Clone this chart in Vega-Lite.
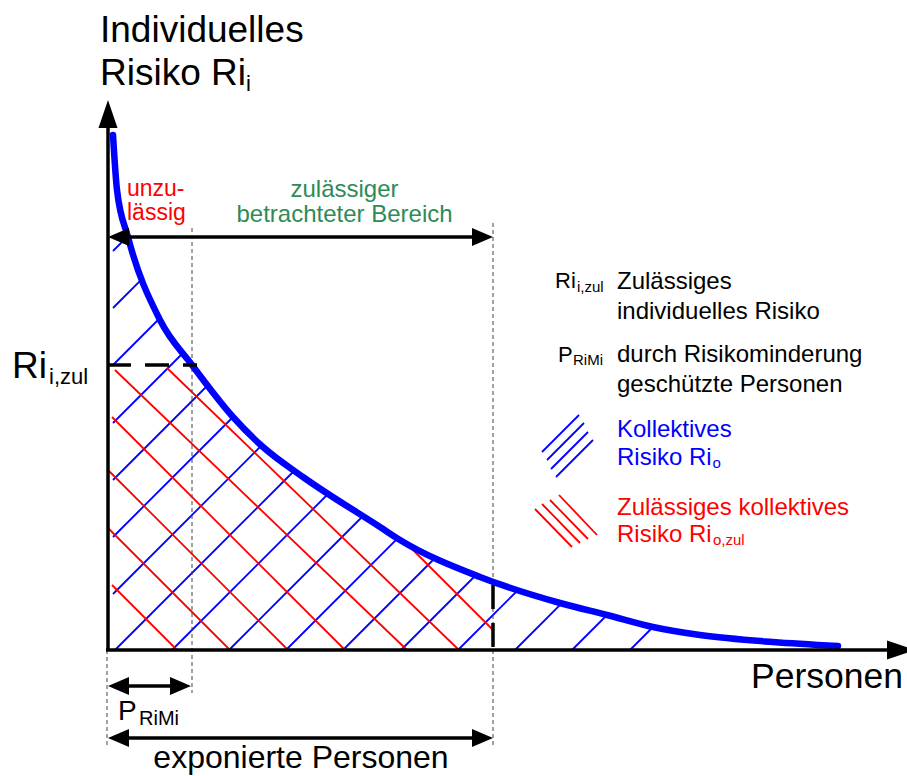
{
  "$schema": "https://vega.github.io/schema/vega-lite/v6.json",
  "width": 907,
  "height": 776,
  "padding": 0,
  "autosize": {"type": "none"},
  "background": "white",
  "config": {"view": {"stroke": null}, "text": {"font": "Liberation Sans"}},
  "datasets": {
    "curve": [
      {"x": 6, "y": 515}, {"x": 10, "y": 460}, {"x": 21, "y": 413}, {"x": 53, "y": 330},
      {"x": 85, "y": 285}, {"x": 126, "y": 233}, {"x": 156, "y": 203}, {"x": 196, "y": 173},
      {"x": 273, "y": 123}, {"x": 293, "y": 110}, {"x": 373, "y": 73}, {"x": 453, "y": 47},
      {"x": 500, "y": 35}, {"x": 546, "y": 23}, {"x": 593, "y": 15}, {"x": 666, "y": 8},
      {"x": 731, "y": 4}
    ],
    "segs": [
      {"g": "blue", "x": 6, "y": 399, "x2": 18, "y2": 411},
      {"g": "blue", "x": 6, "y": 342, "x2": 36.6, "y2": 372.6},
      {"g": "blue", "x": 6, "y": 285, "x2": 52, "y2": 331},
      {"g": "blue", "x": 6, "y": 227, "x2": 76, "y2": 297},
      {"g": "blue", "x": 6, "y": 170, "x2": 101, "y2": 265},
      {"g": "blue", "x": 6, "y": 113, "x2": 126, "y2": 233},
      {"g": "blue", "x": 6, "y": 56, "x2": 154.5, "y2": 204.5},
      {"g": "blue", "x": 8, "y": 0, "x2": 187, "y2": 179},
      {"g": "blue", "x": 65, "y": 0, "x2": 221.5, "y2": 156.5},
      {"g": "blue", "x": 122, "y": 0, "x2": 256, "y2": 134},
      {"g": "blue", "x": 179, "y": 0, "x2": 290.6, "y2": 111.6},
      {"g": "blue", "x": 236, "y": 0, "x2": 329, "y2": 93},
      {"g": "blue", "x": 294, "y": 0, "x2": 369, "y2": 75},
      {"g": "blue", "x": 351, "y": 0, "x2": 411.5, "y2": 60.5},
      {"g": "blue", "x": 408, "y": 0, "x2": 454.6, "y2": 46.6},
      {"g": "blue", "x": 465, "y": 0, "x2": 500, "y2": 35},
      {"g": "blue", "x": 523, "y": 0, "x2": 546, "y2": 23},
      {"g": "blue", "x": 435, "y": 198, "x2": 472, "y2": 235},
      {"g": "blue", "x": 440, "y": 190, "x2": 477, "y2": 227},
      {"g": "blue", "x": 444, "y": 181, "x2": 481, "y2": 218},
      {"g": "blue", "x": 449, "y": 173, "x2": 486, "y2": 210},
      {"g": "red", "x": 298, "y": 108, "x2": 386, "y2": 20},
      {"g": "red", "x": 60, "y": 282, "x2": 352, "y2": 0},
      {"g": "red", "x": 8, "y": 280, "x2": 300, "y2": 0},
      {"g": "red", "x": 5, "y": 233, "x2": 238, "y2": 0},
      {"g": "red", "x": 1, "y": 180, "x2": 181, "y2": 0},
      {"g": "red", "x": 0, "y": 123, "x2": 123, "y2": 0},
      {"g": "red", "x": 5, "y": 65, "x2": 70, "y2": 0},
      {"g": "red", "x": 428, "y": 141, "x2": 465, "y2": 103},
      {"g": "red", "x": 435, "y": 146, "x2": 473, "y2": 107},
      {"g": "red", "x": 443, "y": 150, "x2": 481, "y2": 111},
      {"g": "red", "x": 452, "y": 155, "x2": 490, "y2": 115},
      {"g": "thin", "x": 85, "y": 422, "x2": 85, "y2": -43},
      {"g": "thin", "x": 386, "y": 427, "x2": 386, "y2": -97},
      {"g": "thin", "x": 0, "y": 0, "x2": 0, "y2": -98},
      {"g": "dash", "x": 0, "y": 285, "x2": 90, "y2": 285},
      {"g": "dash", "x": 386, "y": 65, "x2": 386, "y2": 0},
      {"g": "solid", "x": 1, "y": 0, "x2": 1, "y2": 530},
      {"g": "solid", "x": -1, "y": 0, "x2": 790, "y2": 0},
      {"g": "solid", "x": 11, "y": 413, "x2": 375, "y2": 413},
      {"g": "solid", "x": 11, "y": -36, "x2": 74, "y2": -36},
      {"g": "solid", "x": 11, "y": -88, "x2": 376, "y2": -88}
    ],
    "heads": [
      {"g": "upbig", "x": 1, "y": 536},
      {"g": "rightbig", "x": 794, "y": 0},
      {"g": "left", "x": 11.5, "y": 413},
      {"g": "left", "x": 11.5, "y": -36},
      {"g": "left", "x": 11.5, "y": -88},
      {"g": "right", "x": 375.5, "y": 413},
      {"g": "right", "x": 73.5, "y": -36},
      {"g": "right", "x": 375.5, "y": -88}
    ],
    "texts": [
      {"g": "big", "t": "Individuelles", "x": -7, "y": 608},
      {"g": "big", "t": "Risiko Ri", "x": -7, "y": 565},
      {"g": "bigsub", "t": "i", "x": 139, "y": 559},
      {"g": "big", "t": "Ri", "x": -95, "y": 272},
      {"g": "bigsub", "t": "i,zul", "x": -58, "y": 266},
      {"g": "axt", "t": "Personen", "x": 644, "y": -38},
      {"g": "mid", "t": "exponierte Personen", "x": 194, "y": -118},
      {"g": "p", "t": "P", "x": 11, "y": -70},
      {"g": "psub", "t": "RiMi", "x": 32, "y": -75},
      {"g": "red23", "t": "unzu-", "x": 20, "y": 454},
      {"g": "red23", "t": "lässig", "x": 20, "y": 430},
      {"g": "green", "t": "zulässiger", "x": 237.5, "y": 453},
      {"g": "green", "t": "betrachteter Bereich", "x": 237.5, "y": 428},
      {"g": "leg", "t": "Zulässiges", "x": 510, "y": 361},
      {"g": "leg", "t": "individuelles Risiko", "x": 510, "y": 331},
      {"g": "leg", "t": "durch Risikominderung", "x": 510, "y": 288},
      {"g": "leg", "t": "geschützte Personen", "x": 510, "y": 258},
      {"g": "legblue", "t": "Kollektives", "x": 510, "y": 213},
      {"g": "legblue", "t": "Risiko Ri", "x": 510, "y": 185},
      {"g": "legred", "t": "Zulässiges kollektives", "x": 510, "y": 135},
      {"g": "legred", "t": "Risiko Ri", "x": 510, "y": 108},
      {"g": "legsym", "t": "Ri", "x": 448, "y": 362},
      {"g": "legsym", "t": "P", "x": 451, "y": 288},
      {"g": "legsub", "t": "i,zul", "x": 470, "y": 358},
      {"g": "legsub", "t": "RiMi", "x": 466, "y": 285},
      {"g": "legsubblue", "t": "o", "x": 605.5, "y": 182},
      {"g": "legsubred", "t": "o,zul", "x": 606, "y": 105}
    ]
  },
  "encoding": {
    "x": {"field": "x", "type": "quantitative", "scale": {"domain": [-107, 800], "nice": false, "zero": false}, "axis": null},
    "y": {"field": "y", "type": "quantitative", "scale": {"domain": [-126, 650], "nice": false, "zero": false}, "axis": null}
  },
  "layer": [
    {"data": {"name": "segs"}, "transform": [{"filter": "datum.g == 'blue'"}],
     "mark": {"type": "rule", "color": "#0000ff", "strokeWidth": 1.8},
     "encoding": {"x2": {"field": "x2"}, "y2": {"field": "y2"}}},
    {"data": {"name": "segs"}, "transform": [{"filter": "datum.g == 'red'"}],
     "mark": {"type": "rule", "color": "#ff0000", "strokeWidth": 1.8},
     "encoding": {"x2": {"field": "x2"}, "y2": {"field": "y2"}}},
    {"data": {"name": "segs"}, "transform": [{"filter": "datum.g == 'thin'"}],
     "mark": {"type": "rule", "color": "#444444", "strokeWidth": 1, "strokeDash": [4, 3]},
     "encoding": {"x2": {"field": "x2"}, "y2": {"field": "y2"}}},
    {"data": {"name": "curve"},
     "mark": {"type": "line", "color": "#0000ff", "strokeWidth": 6.5, "strokeCap": "round", "interpolate": "monotone"},
     "encoding": {}},
    {"data": {"name": "segs"}, "transform": [{"filter": "datum.g == 'dash'"}],
     "mark": {"type": "rule", "color": "#000000", "strokeWidth": 3.5, "strokeDash": [24, 14]},
     "encoding": {"x2": {"field": "x2"}, "y2": {"field": "y2"}}},
    {"data": {"name": "segs"}, "transform": [{"filter": "datum.g == 'solid'"}],
     "mark": {"type": "rule", "color": "#000000", "strokeWidth": 3.5},
     "encoding": {"x2": {"field": "x2"}, "y2": {"field": "y2"}}},
    {"data": {"name": "heads"}, "transform": [{"filter": "datum.g == 'upbig'"}],
     "mark": {"type": "point", "filled": true, "color": "#000000", "opacity": 1, "size": 784, "shape": "M0,-1L0.68,1L-0.68,1Z"}},
    {"data": {"name": "heads"}, "transform": [{"filter": "datum.g == 'rightbig'"}],
     "mark": {"type": "point", "filled": true, "color": "#000000", "opacity": 1, "size": 784, "shape": "M1,0L-1,-0.68L-1,0.68Z"}},
    {"data": {"name": "heads"}, "transform": [{"filter": "datum.g == 'left'"}],
     "mark": {"type": "point", "filled": true, "color": "#000000", "opacity": 1, "size": 441, "shape": "M-1,0L1,-0.86L1,0.86Z"}},
    {"data": {"name": "heads"}, "transform": [{"filter": "datum.g == 'right'"}],
     "mark": {"type": "point", "filled": true, "color": "#000000", "opacity": 1, "size": 441, "shape": "M1,0L-1,-0.86L-1,0.86Z"}},
    {"data": {"name": "texts"}, "transform": [{"filter": "datum.g == 'big'"}],
     "mark": {"type": "text", "align": "left", "baseline": "alphabetic", "fontSize": 37, "color": "#000000"},
     "encoding": {"text": {"field": "t"}}},
    {"data": {"name": "texts"}, "transform": [{"filter": "datum.g == 'axt'"}],
     "mark": {"type": "text", "align": "left", "baseline": "alphabetic", "fontSize": 35.5, "color": "#000000"},
     "encoding": {"text": {"field": "t"}}},
    {"data": {"name": "texts"}, "transform": [{"filter": "datum.g == 'bigsub'"}],
     "mark": {"type": "text", "align": "left", "baseline": "alphabetic", "fontSize": 22, "color": "#000000"},
     "encoding": {"text": {"field": "t"}}},
    {"data": {"name": "texts"}, "transform": [{"filter": "datum.g == 'mid'"}],
     "mark": {"type": "text", "align": "center", "baseline": "alphabetic", "fontSize": 32, "color": "#000000"},
     "encoding": {"text": {"field": "t"}}},
    {"data": {"name": "texts"}, "transform": [{"filter": "datum.g == 'p'"}],
     "mark": {"type": "text", "align": "left", "baseline": "alphabetic", "fontSize": 28, "color": "#000000"},
     "encoding": {"text": {"field": "t"}}},
    {"data": {"name": "texts"}, "transform": [{"filter": "datum.g == 'psub'"}],
     "mark": {"type": "text", "align": "left", "baseline": "alphabetic", "fontSize": 20, "color": "#000000"},
     "encoding": {"text": {"field": "t"}}},
    {"data": {"name": "texts"}, "transform": [{"filter": "datum.g == 'red23'"}],
     "mark": {"type": "text", "align": "left", "baseline": "alphabetic", "fontSize": 23, "color": "#ff0000"},
     "encoding": {"text": {"field": "t"}}},
    {"data": {"name": "texts"}, "transform": [{"filter": "datum.g == 'green'"}],
     "mark": {"type": "text", "align": "center", "baseline": "alphabetic", "fontSize": 24, "color": "#2e8b57"},
     "encoding": {"text": {"field": "t"}}},
    {"data": {"name": "texts"}, "transform": [{"filter": "datum.g == 'leg'"}],
     "mark": {"type": "text", "align": "left", "baseline": "alphabetic", "fontSize": 24, "color": "#000000"},
     "encoding": {"text": {"field": "t"}}},
    {"data": {"name": "texts"}, "transform": [{"filter": "datum.g == 'legblue'"}],
     "mark": {"type": "text", "align": "left", "baseline": "alphabetic", "fontSize": 24, "color": "#0000ff"},
     "encoding": {"text": {"field": "t"}}},
    {"data": {"name": "texts"}, "transform": [{"filter": "datum.g == 'legred'"}],
     "mark": {"type": "text", "align": "left", "baseline": "alphabetic", "fontSize": 24, "color": "#ff0000"},
     "encoding": {"text": {"field": "t"}}},
    {"data": {"name": "texts"}, "transform": [{"filter": "datum.g == 'legsym'"}],
     "mark": {"type": "text", "align": "left", "baseline": "alphabetic", "fontSize": 22, "color": "#000000"},
     "encoding": {"text": {"field": "t"}}},
    {"data": {"name": "texts"}, "transform": [{"filter": "datum.g == 'legsub'"}],
     "mark": {"type": "text", "align": "left", "baseline": "alphabetic", "fontSize": 15, "color": "#000000"},
     "encoding": {"text": {"field": "t"}}},
    {"data": {"name": "texts"}, "transform": [{"filter": "datum.g == 'legsubblue'"}],
     "mark": {"type": "text", "align": "left", "baseline": "alphabetic", "fontSize": 15, "color": "#0000ff"},
     "encoding": {"text": {"field": "t"}}},
    {"data": {"name": "texts"}, "transform": [{"filter": "datum.g == 'legsubred'"}],
     "mark": {"type": "text", "align": "left", "baseline": "alphabetic", "fontSize": 15, "color": "#ff0000"},
     "encoding": {"text": {"field": "t"}}}
  ]
}
